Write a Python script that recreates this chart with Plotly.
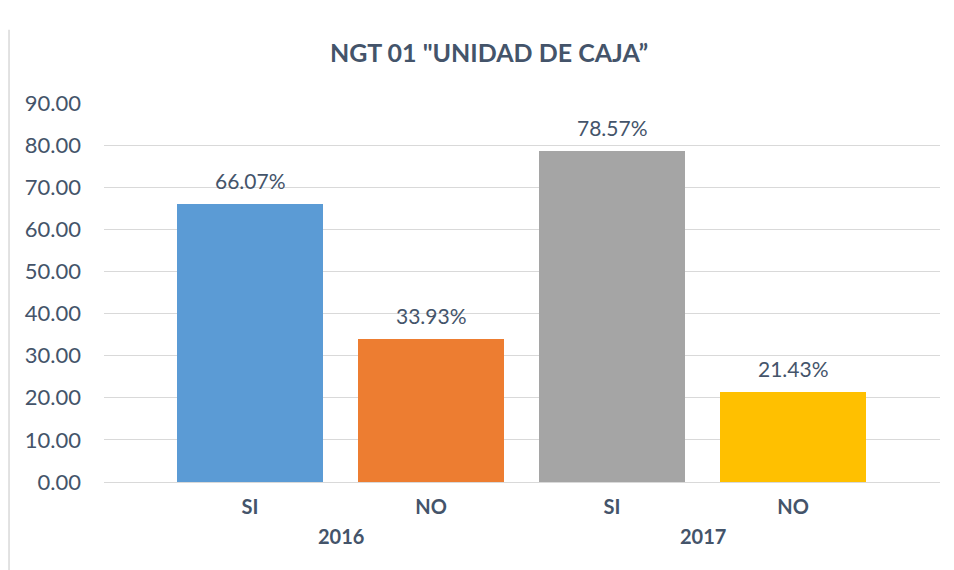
import plotly.graph_objects as go

years = ["2016", "2016", "2017", "2017"]
answers = ["SI", "NO", "SI", "NO"]
values = [66.07, 33.93, 78.57, 21.43]
labels = ["66.07%", "33.93%", "78.57%", "21.43%"]
colors = ["#5B9BD5", "#ED7D31", "#A5A5A5", "#FFC000"]
year_labels = ["2016", "2017"]

FONT = "Lato"
TXT = "#44546A"

x = list(range(len(values)))

fig = go.Figure()
fig.add_trace(go.Bar(
    x=x, y=values, width=0.81,
    marker=dict(color=colors, line=dict(width=0)),
    hoverinfo="skip",
))

for xi, v, t in zip(x, values, labels):
    fig.add_annotation(x=xi, y=v, text=t, showarrow=False, yanchor="bottom",
                       yshift=9, font=dict(family=FONT, size=21, color=TXT))

for i, yl in enumerate(year_labels):
    fig.add_annotation(x=2 * i + 0.5, y=0, yref="paper", text="<b>" + yl + "</b>",
                       showarrow=False, yanchor="middle", yshift=-54,
                       font=dict(family=FONT, size=20, color=TXT))

fig.add_shape(type="line", xref="paper", yref="paper", x0=-0.1136, x1=-0.1136,
              y0=-0.3, y1=1.193, line=dict(color="#D9D9D9", width=1.5))

fig.update_layout(
    width=954, height=570,
    margin=dict(l=96, r=22, t=95, b=96),
    paper_bgcolor="white", plot_bgcolor="white",
    title=dict(text="<b>NGT 01 \"UNIDAD DE CAJA\u201d</b>", x=481 / 954, xanchor="center",
               xref="container",
               y=1 - 45 / 570, yanchor="middle",
               font=dict(family=FONT, size=25, color=TXT)),
    showlegend=False,
    bargap=0,
    xaxis=dict(range=[-0.807, 3.812], tickvals=x, ticktext=answers,
               showgrid=False, zeroline=False, showline=False, ticks="",
               ticklabelstandoff=11,
               tickfont=dict(family=FONT, size=20, color=TXT, weight="bold")),
    yaxis=dict(range=[0, 90], dtick=10, tickformat=".2f",
               showgrid=True, gridcolor="#D9D9D9", gridwidth=1,
               zeroline=True, zerolinecolor="#D9D9D9", zerolinewidth=1,
               showline=False, ticks="", ticklabelstandoff=22,
               tickfont=dict(family=FONT, size=22, color=TXT)),
)

fig.write_html("out.html")
